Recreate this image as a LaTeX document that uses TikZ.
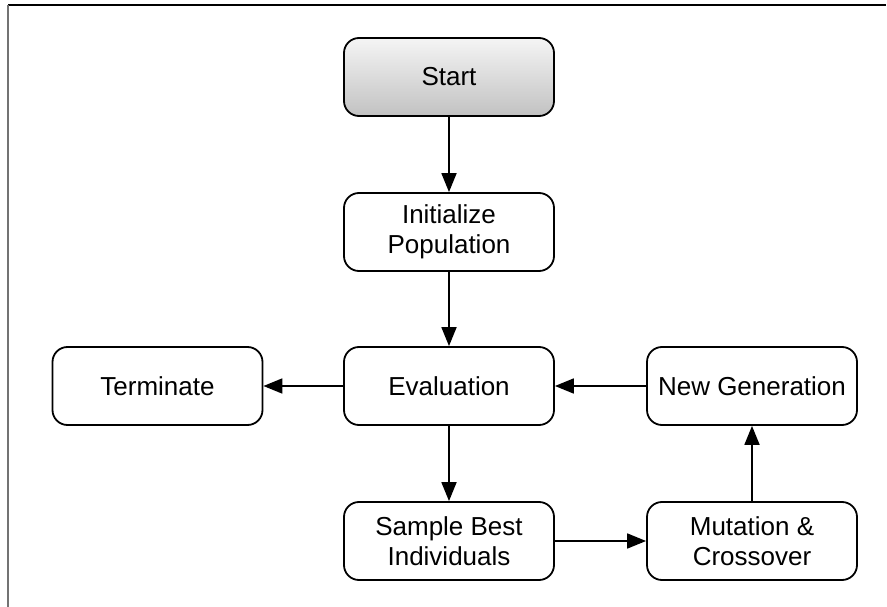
\documentclass[tikz,border=0pt]{standalone}
\usepackage{fontspec}
\setmainfont{Liberation Sans}
\usetikzlibrary{arrows.meta}
\begin{document}
\begin{tikzpicture}[x=1pt,y=1pt,
  box/.style={draw=black, line width=1.8pt, rounded corners=15pt, minimum width=210pt, minimum height=78pt, align=center, font=\fontsize{26}{30}\selectfont, inner sep=0pt},
  startbox/.style={box, top color=black!4, bottom color=black!24},
  conn/.style={line width=1.8pt, -{Triangle[length=19pt,width=15pt]}}
]
\useasboundingbox (0,0) rectangle (887,-607);
\draw[line width=1.8pt] (8,-5) -- (886,-5);
\draw[line width=2.4pt, black!55] (8,-5) -- (8,-607);
\node[startbox] (start) at (449,-77) {Start};
\node[box] (init) at (449,-232) {Initialize\\Population};
\node[box] (eval) at (449,-386) {Evaluation};
\node[box] (term) at (157.5,-386) {Terminate};
\node[box] (newgen) at (752,-386) {New Generation};
\node[box] (sample) at (449,-541) {Sample Best\\Individuals};
\node[box] (mut) at (752,-541) {Mutation \&\\Crossover};
\draw[conn] (start) -- (init);
\draw[conn] (init) -- (eval);
\draw[conn] (eval) -- (term);
\draw[conn] (newgen) -- (eval);
\draw[conn] (eval) -- (sample);
\draw[conn] (sample) -- (mut);
\draw[conn] (mut) -- (newgen);
\end{tikzpicture}
\end{document}
